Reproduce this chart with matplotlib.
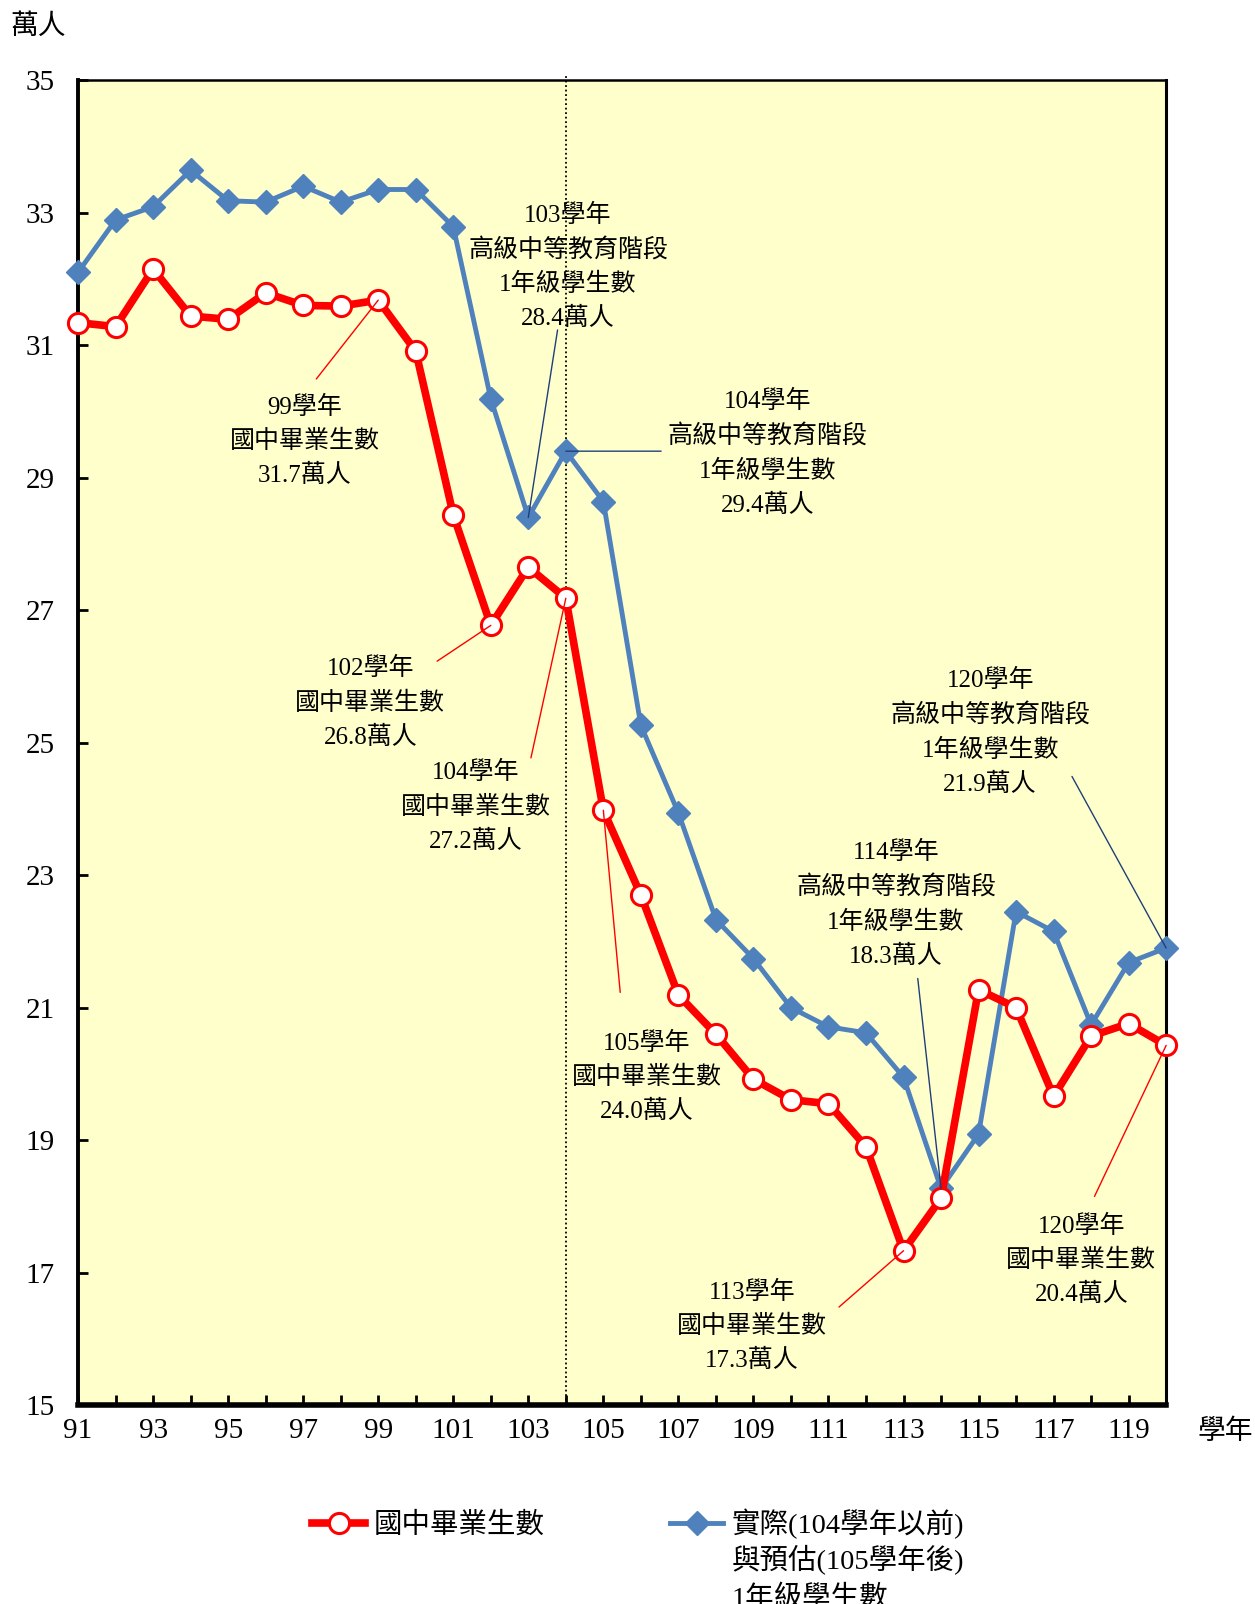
import numpy as np
import matplotlib
matplotlib.use("Agg")
import matplotlib.pyplot as plt
from matplotlib.ticker import MultipleLocator, FixedLocator

plt.rcParams['font.family'] = ['Liberation Serif', 'Noto Sans CJK TC']

# 學年
years = np.arange(91, 121)

# 國中畢業生數 (萬人)
grads = [31.34, 31.28, 32.15, 31.44, 31.39, 31.79, 31.60, 31.59, 31.68, 30.91,
         28.44, 26.77, 27.65, 27.18, 23.98, 22.70, 21.19, 20.60, 19.92, 19.61,
         19.55, 18.90, 17.33, 18.12, 21.27, 21.00, 19.66, 20.57, 20.76, 20.43]

# 實際與預估 1年級學生數 (萬人)
first_year = [32.10, 32.89, 33.09, 33.64, 33.18, 33.16, 33.40, 33.16, 33.35, 33.35,
              32.79, 30.19, 28.40, 29.40, 28.64, 25.26, 23.94, 22.33, 21.74, 21.00,
              20.71, 20.62, 19.95, 18.27, 19.09, 22.45, 22.15, 20.74, 21.68, 21.90]

red_name = "國中畢業生數"
blue_name = ["實際(104學年以前)", "與預估(105學年後)", "1年級學生數"]
blue_note = "高級中等教育階段\n1年級學生數"

# callouts: (series, year, text center, leader start)
callouts = [
    ("blue", 103, (104.06, 32.18), (103.78, 31.23)),
    ("blue", 104, (109.37, 29.37), (106.54, 29.40)),
    ("red", 99, (97.05, 29.55), (97.35, 30.49)),
    ("red", 102, (98.79, 25.60), (100.57, 26.23)),
    ("red", 104, (101.60, 24.03), (103.07, 24.77)),
    ("red", 105, (106.15, 19.95), (105.45, 21.23)),
    ("red", 113, (108.96, 16.19), (111.28, 16.48)),
    ("blue", 114, (112.80, 22.56), (113.38, 21.44)),
    ("blue", 120, (115.31, 25.15), (117.49, 24.49)),
    ("red", 120, (117.74, 17.19), (118.09, 18.15)),
]

RED = "#FF0000"
BLUE = "#4F81BD"
NAVY = "#1F3F7A"

fig = plt.figure(figsize=(12.55, 16.04), dpi=100)
ax = fig.add_axes([0.0622, 0.124, 0.867, 0.826])
ax.set_facecolor("#FFFFCC")

ax.plot(years, grads, color=RED, lw=5.5, marker="o", ms=14.5, mfc="white",
        mec=RED, mew=2.2, clip_on=False, zorder=5, label=red_name)
ax.plot(years, first_year, color=BLUE, lw=3.5, marker="D", ms=12.5, mfc=BLUE,
        mec=BLUE, clip_on=False, zorder=4, label=blue_name[0])

ax.axvline(104, color="black", lw=1.3, ls=(0, (1, 1.5)), ymax=1.005,
           clip_on=False, zorder=2)

series = {"red": grads, "blue": first_year}
for key, yr, (tx, ty), (lx, ly) in callouts:
    val = series[key][yr - years[0]]
    if key == "red":
        txt = f"{yr}學年\n國中畢業生數\n{val:.1f}萬人"
        col = RED
    else:
        txt = f"{yr}學年\n{blue_note}\n{val:.1f}萬人"
        col = NAVY
    ax.annotate("", xy=(yr, val), xytext=(lx, ly),
                arrowprops=dict(arrowstyle="-", color=col, lw=1.0,
                                shrinkA=0, shrinkB=0), zorder=6)
    ax.text(tx, ty, txt, ha="center", va="center", fontsize=18,
            linespacing=1.6, zorder=7)

ax.set_xlim(91, 120)
ax.set_ylim(15, 35)
ax.xaxis.set_major_locator(FixedLocator(np.arange(91, 120, 2)))
ax.xaxis.set_minor_locator(MultipleLocator(1))
ax.yaxis.set_major_locator(FixedLocator(np.arange(15, 36, 2)))
ax.tick_params(axis="x", which="both", direction="in", length=7, width=2,
               labelsize=21, pad=9, top=False)
ax.tick_params(axis="y", direction="in", length=7, width=2,
               labelsize=21, pad=17, right=False)

for side, w in [("left", 2.8), ("bottom", 4.0), ("top", 1.8), ("right", 2.2)]:
    ax.spines[side].set_linewidth(w)
    ax.spines[side].set_color("black")

fig.text(0.030, 0.983, "萬人", fontsize=20, ha="center", va="center")
fig.text(0.976, 0.107, "學年", fontsize=20, ha="center", va="center")

leg = fig.legend(loc="center left", bbox_to_anchor=(0.2486, 0.050), ncol=2,
                 frameon=False, fontsize=20.5, handlelength=1.87,
                 handletextpad=0.3, columnspacing=4.4, borderaxespad=0,
                 borderpad=0)

# remaining lines of the blue legend label, hung below its first line
fig.canvas.draw()
bb = leg.get_texts()[1].get_window_extent().transformed(fig.transFigure.inverted())
fig.text(bb.x0, bb.y0 - 0.0035, "\n".join(blue_name[1:]), ha="left", va="top",
         fontsize=20.5, linespacing=1.5)

fig.savefig("out.png", dpi=100, facecolor="white")
